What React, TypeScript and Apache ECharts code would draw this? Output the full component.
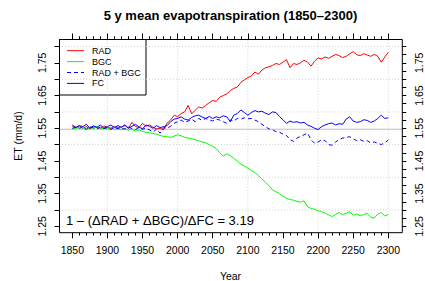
import React, { useEffect, useRef } from 'react';
import * as echarts from 'echarts';

// ---- data (5-year sampling) ----
const YEARS = Array.from({ length: 91 }, (_, i) => 1850 + 5 * i);

const RAD = [
  1.556, 1.552, 1.558, 1.550, 1.555, 1.548, 1.556, 1.552, 1.550, 1.557,
  1.553, 1.549, 1.556, 1.551, 1.554, 1.558, 1.550, 1.568, 1.555, 1.552,
  1.565, 1.556, 1.560, 1.553, 1.548, 1.550, 1.545, 1.566, 1.575, 1.590,
  1.585, 1.595, 1.600, 1.620, 1.594, 1.605, 1.615, 1.612, 1.620, 1.628,
  1.635, 1.632, 1.645, 1.650, 1.655, 1.665, 1.672, 1.676, 1.690, 1.698,
  1.705, 1.710, 1.722, 1.715, 1.728, 1.735, 1.738, 1.742, 1.748, 1.745,
  1.752, 1.760, 1.735, 1.748, 1.745, 1.750, 1.758, 1.752, 1.740, 1.755,
  1.765, 1.762, 1.768, 1.764, 1.770, 1.776, 1.772, 1.766, 1.770, 1.778,
  1.784, 1.775, 1.772, 1.778, 1.774, 1.770, 1.776, 1.770, 1.752, 1.768,
  1.782,
];

const BGC = [
  1.552, 1.548, 1.555, 1.550, 1.546, 1.553, 1.549, 1.555, 1.547, 1.551,
  1.548, 1.553, 1.546, 1.550, 1.545, 1.549, 1.544, 1.548, 1.541, 1.545,
  1.540, 1.538, 1.536, 1.534, 1.532, 1.528, 1.525, 1.524, 1.522, 1.526,
  1.530, 1.527, 1.522, 1.520, 1.518, 1.515, 1.512, 1.508, 1.505, 1.500,
  1.495, 1.488, 1.475, 1.465, 1.472, 1.466, 1.458, 1.450, 1.440, 1.435,
  1.428, 1.420, 1.415, 1.405, 1.395, 1.385, 1.375, 1.362, 1.356, 1.350,
  1.342, 1.336, 1.332, 1.330, 1.326, 1.324, 1.328, 1.310, 1.305, 1.302,
  1.298, 1.295, 1.290, 1.285, 1.280, 1.287, 1.292, 1.286, 1.290, 1.295,
  1.284, 1.288, 1.282, 1.286, 1.290, 1.278, 1.275, 1.288, 1.292, 1.282,
  1.286,
];

const RAD_BGC = [
  1.548, 1.555, 1.550, 1.553, 1.547, 1.556, 1.551, 1.548, 1.554, 1.549,
  1.552, 1.546, 1.553, 1.548, 1.551, 1.547, 1.554, 1.549, 1.546, 1.552,
  1.547, 1.550, 1.545, 1.538, 1.548, 1.535, 1.552, 1.550, 1.556, 1.565,
  1.570, 1.575, 1.568, 1.572, 1.578, 1.570, 1.580, 1.574, 1.580, 1.576,
  1.572, 1.578, 1.575, 1.570, 1.565, 1.575, 1.572, 1.580, 1.578, 1.582,
  1.579, 1.580, 1.575, 1.570, 1.562, 1.555, 1.548, 1.545, 1.540, 1.538,
  1.532, 1.528, 1.515, 1.510, 1.520, 1.525, 1.530, 1.535, 1.515, 1.504,
  1.508, 1.515, 1.512, 1.500, 1.498, 1.508, 1.515, 1.520, 1.522, 1.524,
  1.518, 1.512, 1.515, 1.510, 1.512, 1.505, 1.508, 1.504, 1.500, 1.506,
  1.514,
];

const FC = [
  1.560, 1.552, 1.558, 1.555, 1.562, 1.550, 1.557, 1.553, 1.560, 1.550,
  1.555, 1.560, 1.552, 1.558, 1.553, 1.561, 1.550, 1.556, 1.562, 1.554,
  1.548, 1.560, 1.556, 1.550, 1.558, 1.552, 1.555, 1.558, 1.570, 1.578,
  1.580, 1.585, 1.578, 1.575, 1.583, 1.588, 1.590, 1.584, 1.580, 1.586,
  1.580, 1.585, 1.582, 1.588, 1.585, 1.570, 1.590, 1.595, 1.606, 1.598,
  1.590, 1.598, 1.604, 1.600, 1.602, 1.596, 1.592, 1.600, 1.598, 1.586,
  1.576, 1.565, 1.572, 1.568, 1.570, 1.566, 1.568, 1.560, 1.556, 1.550,
  1.546, 1.555, 1.560, 1.564, 1.566, 1.560, 1.564, 1.562, 1.578, 1.585,
  1.572, 1.568, 1.570, 1.576, 1.574, 1.568, 1.572, 1.580, 1.590, 1.580,
  1.582,
];

const SERIES_NAMES = ['RAD', 'BGC', 'RAD + BGC', 'FC'];
const SERIES_COLORS = ['#FF0000', '#00FF00', '#0000FF', '#0000FF'];
const SERIES_DASHED = [false, false, true, false];
const SERIES_VALUES = [RAD, BGC, RAD_BGC, FC];

const GRID_YEARS = [1900, 2000, 2100, 2200, 2300];
const GRID_VALUES = [1.3, 1.4, 1.5, 1.6, 1.7, 1.8];
const REF_VALUE = 1.547;

// plot-box extent in data units (R's extended range)
const X_BOX = [1831.06, 2319.94];
const Y_BOX = [1.2306, 1.8229];

const TITLE = '5 y mean evapotranspiration (1850\u20132300)';
const X_NAME = 'Year';
const Y_NAME = 'ET (mm/d)';
const NOTE = '1 \u2013 (\u0394RAD + \u0394BGC)/\u0394FC = 3.19';

const FONT = '"Liberation Sans", Arial, Helvetica, sans-serif';

export default function App() {
  const ref = useRef<HTMLDivElement>(null);

  useEffect(() => {
    if (!ref.current) return;
    const chart = echarts.init(ref.current, undefined, { renderer: 'svg' });

    const yLabelFmt = (v: number) => {
      const k = Math.round(v * 100);
      return k % 10 === 5 ? (k / 100).toFixed(2) : '';
    };

    const baseX = {
      type: 'value' as const,
      min: 1850,
      max: 2300,
      interval: 50,
      axisLine: { show: false },
      splitLine: { show: false },
      minorSplitLine: { show: false },
      axisTick: { show: true, length: 5.5, lineStyle: { color: '#000', width: 1 } },
      minorTick: { show: true, splitNumber: 5, length: 2.8, lineStyle: { color: '#000', width: 1 } },
    };
    const baseY = {
      type: 'value' as const,
      min: 1.25,
      max: 1.8,
      interval: 0.05,
      axisLine: { show: false },
      splitLine: { show: false },
      axisTick: { show: true, length: 4.5, lineStyle: { color: '#000', width: 1 } },
      axisLabel: {
        rotate: 90,
        fontSize: 10.5,
        color: '#000',
        fontFamily: FONT,
        formatter: yLabelFmt,
      },
    };

    const vGridSeries = {
      type: 'custom',
      silent: true,
      z: 1,
      data: GRID_YEARS.map((y) => [y, 1.5]),
      renderItem: (_p: any, api: any) => {
        const yr = api.value(0);
        const a = api.coord([yr, Y_BOX[0]]);
        const b = api.coord([yr, Y_BOX[1]]);
        return {
          type: 'line',
          shape: { x1: a[0], y1: a[1], x2: b[0], y2: b[1] },
          style: { stroke: '#D3D3D3', lineWidth: 1, lineDash: [1, 2] },
        };
      },
    };
    const hGridSeries = {
      type: 'custom',
      silent: true,
      z: 1,
      data: GRID_VALUES.map((v) => [1850, v]),
      renderItem: (_p: any, api: any) => {
        const v = api.value(1);
        const a = api.coord([X_BOX[0], v]);
        const b = api.coord([X_BOX[1], v]);
        return {
          type: 'line',
          shape: { x1: a[0], y1: a[1], x2: b[0], y2: b[1] },
          style: { stroke: '#D3D3D3', lineWidth: 1, lineDash: [1, 2] },
        };
      },
    };
    const refSeries = {
      type: 'custom',
      silent: true,
      z: 2,
      data: [[1850, REF_VALUE]],
      renderItem: (_p: any, api: any) => {
        const v = api.value(1);
        const a = api.coord([X_BOX[0], v]);
        const b = api.coord([X_BOX[1], v]);
        return {
          type: 'line',
          shape: { x1: a[0], y1: a[1], x2: b[0], y2: b[1] },
          style: { stroke: '#BEBEBE', lineWidth: 1 },
        };
      },
    };

    const lineSeries = SERIES_NAMES.map((name, i) => ({
      type: 'line',
      name,
      z: 3,
      showSymbol: false,
      symbol: 'none',
      data: YEARS.map((y, j) => [y, SERIES_VALUES[i][j]]),
      lineStyle: {
        color: SERIES_COLORS[i],
        width: 1,
        type: SERIES_DASHED[i] ? [4, 3] : 'solid',
      },
      itemStyle: { color: SERIES_COLORS[i] },
    }));

    const legendRowY = [50.7, 61.6, 72.5, 83.4];
    const legendChildren: any[] = [
      {
        type: 'rect',
        shape: { x: 59.5, y: 39.5, width: 86.5, height: 55.5 },
        style: { fill: '#fff', stroke: '#000', lineWidth: 1 },
      },
    ];
    SERIES_NAMES.forEach((name, i) => {
      legendChildren.push({
        type: 'line',
        shape: { x1: 67, y1: legendRowY[i], x2: 84, y2: legendRowY[i] },
        style: {
          stroke: SERIES_COLORS[i],
          lineWidth: 1,
          lineDash: SERIES_DASHED[i] ? [4, 3] : null,
        },
      });
      legendChildren.push({
        type: 'text',
        x: 92,
        y: legendRowY[i],
        style: {
          text: name,
          fill: '#000',
          font: `9px ${FONT}`,
          textAlign: 'left',
          textVerticalAlign: 'middle',
        },
      });
    });

    chart.setOption({
      animation: false,
      backgroundColor: '#fff',
      textStyle: { fontFamily: FONT },
      grid: { left: 72.3, top: 46.5, width: 316, height: 179.85, containLabel: false },
      xAxis: [
        {
          ...baseX,
          position: 'bottom',
          offset: 6.4,
          axisLabel: {
            fontSize: 10.5,
            color: '#000',
            margin: 12,
            fontFamily: FONT,
            formatter: (v: number) => String(Math.round(v)),
          },
        },
        {
          ...baseX,
          position: 'top',
          offset: 7.5,
          axisLabel: { show: false },
        },
      ],
      yAxis: [
        {
          ...baseY,
          position: 'left',
          offset: 13.3,
          axisLabel: { ...baseY.axisLabel, margin: 12 },
        },
        {
          ...baseY,
          position: 'right',
          offset: 14,
          axisTick: { show: true, length: 4, lineStyle: { color: '#000', width: 1 } },
          minorTick: { show: true, splitNumber: 2, length: 4, lineStyle: { color: '#000', width: 1 } },
          minorSplitLine: { show: false },
          axisLabel: { ...baseY.axisLabel, margin: 11 },
        },
      ],
      series: [vGridSeries, hGridSeries, refSeries, ...lineSeries],
      graphic: [
        {
          type: 'rect',
          z: 50,
          shape: { x: 59.5, y: 39.5, width: 342.8, height: 193.2 },
          style: { fill: 'none', stroke: '#000', lineWidth: 1 },
        },
        { type: 'group', z: 60, children: legendChildren },
        {
          type: 'text',
          z: 60,
          x: 230.5,
          y: 15,
          style: {
            text: TITLE,
            fill: '#000',
            font: `bold 13px ${FONT}`,
            textAlign: 'center',
            textVerticalAlign: 'middle',
          },
        },
        {
          type: 'text',
          z: 60,
          x: 230.5,
          y: 276,
          style: {
            text: X_NAME,
            fill: '#000',
            font: `10.5px ${FONT}`,
            textAlign: 'center',
            textVerticalAlign: 'middle',
          },
        },
        {
          type: 'text',
          z: 60,
          x: 18,
          y: 136,
          rotation: Math.PI / 2,
          style: {
            text: Y_NAME,
            fill: '#000',
            font: `10.5px ${FONT}`,
            textAlign: 'center',
            textVerticalAlign: 'middle',
          },
        },
        {
          type: 'text',
          z: 60,
          x: 66,
          y: 220.5,
          style: {
            text: NOTE,
            fill: '#000',
            font: `13px ${FONT}`,
            textAlign: 'left',
            textVerticalAlign: 'middle',
          },
        },
      ],
    });

    return () => chart.dispose();
  }, []);

  return (
    <div
      ref={ref}
      style={{ position: 'fixed', left: 0, top: 0, width: 425, height: 281, background: '#fff' }}
    />
  );
}
